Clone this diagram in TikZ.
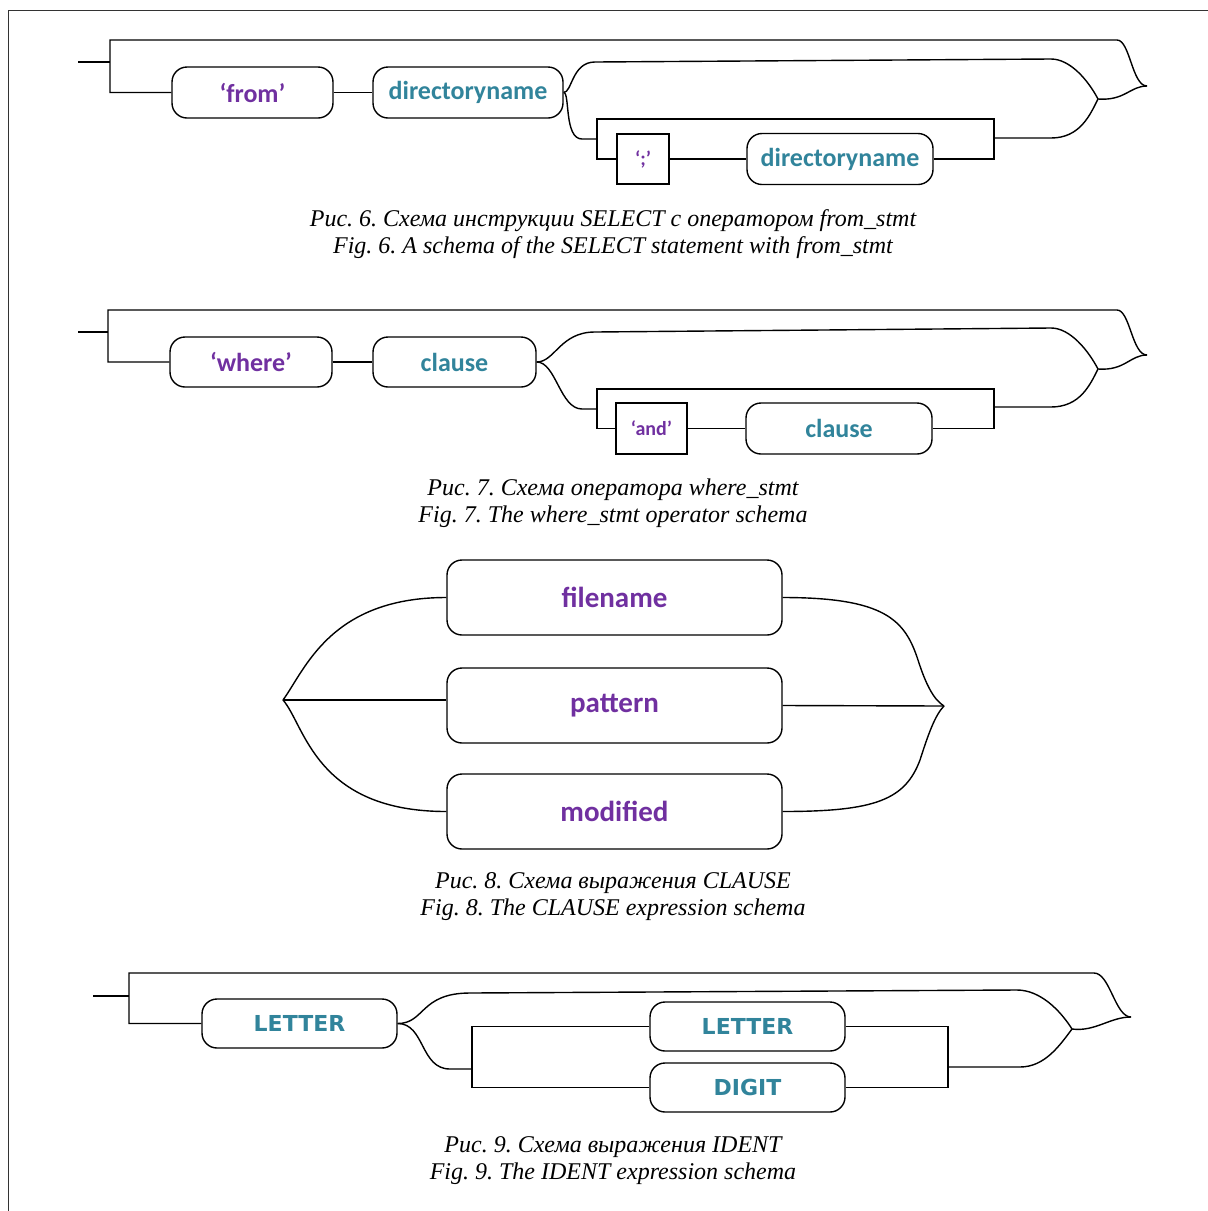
\documentclass[tikz,border=0pt]{standalone}
\usepackage{fontspec}
\setmainfont{Liberation Serif}
\newfontfamily\boxfont{Carlito}
\newfontfamily\capsfont{DejaVu Sans}
\usepackage{tikz}
\usetikzlibrary{positioning}
\definecolor{termpurple}{HTML}{7030A0}
\definecolor{ruleteal}{HTML}{31849B}
\frenchspacing
\tikzset{every picture/.style={line width=1.4pt},
  roundbox/.style={draw, rounded corners=15pt, inner sep=0pt,
    minimum height=51pt, font=\boxfont\bfseries\fontsize{26}{26}\selectfont},
  termbox/.style={roundbox, text=termpurple},
  rulebox/.style={roundbox, text=ruleteal},
  litbox/.style={draw, inner sep=0pt, minimum height=51pt, text=termpurple,
    font=\boxfont\bfseries\fontsize{20}{20}\selectfont},
  capsbox/.style={rulebox, minimum height=49pt,
    font=\capsfont\bfseries\fontsize{22}{22}\selectfont},
  figcaption/.style={align=center, inner sep=0pt,
    font=\itshape\fontsize{24}{27}\selectfont}}
\begin{document}
\begin{tikzpicture}[x=1pt, y=-1pt]
  \useasboundingbox (0,0) rectangle (1208,1211);
  \draw[line width=1pt, black!80] (8,1211) -- (8,10) -- (1208,10);

  % Fig. 6
  \node[termbox, minimum width=161pt] (from6) at (252.5,92.5) {‘from’};
  \node[rulebox, minimum width=190pt] (dir6a) at (468,92.5) {directoryname};
  \node[litbox, minimum width=52pt, minimum height=50pt] (semi6) at (643,159) {‘;’};
  \node[rulebox, minimum width=186pt] (dir6b) at (840,159) {directoryname};
  \coordinate (in6) at (78,62);
  \coordinate (out6) at (1147,86);
  \coordinate (j6) at (1098,99);
  \draw (in6) -- (110,62);
  \draw (from6.west) -- (110,92.5) -- (110,40) -- (1117,40)
    .. controls (1130,40) and (1132,86) .. (out6);
  \draw (j6) .. controls (1125,101) and (1130,86) .. (out6);
  \draw (from6) -- (dir6a);
  \draw (dir6a.east) .. controls (572,92.5) and (572,62) .. (595,62) -- (1051,59)
    .. controls (1070,59) and (1088,80) .. (j6);
  \draw (dir6a.east) .. controls (570,92.5) and (564,139) .. (582,139) -- (597,139);
  \draw (semi6.west) -- (597,159) -- (597,119) -- (994,119) -- (994,159) -- (dir6b.east);
  \draw (semi6) -- (dir6b);
  \draw (994,138) -- (1051,138) .. controls (1080,138) and (1090,115) .. (j6);
  \node[figcaption] (cap6) at (613,234) {Рис. 6. Схема инструкции SELECT с оператором from\_stmt\\
    Fig. 6. A schema of the SELECT statement with from\_stmt};

  % Fig. 7
  \node[termbox, minimum width=162pt, minimum height=50pt] (where7) at (251,362) {‘where’};
  \node[rulebox, minimum width=163pt, minimum height=50pt] (clause7a) at (454.5,362) {clause};
  \node[litbox, minimum width=71pt] (and7) at (651.5,428.5) {‘and’};
  \node[rulebox, minimum width=186pt] (clause7b) at (839,428.5) {clause};
  \coordinate (in7) at (78,332);
  \coordinate (out7) at (1147,355);
  \coordinate (j7) at (1098,369);
  \draw (in7) -- (108,332);
  \draw (where7.west) -- (108,362) -- (108,310) -- (1117,310)
    .. controls (1130,310) and (1132,355) .. (out7);
  \draw (j7) .. controls (1125,371) and (1130,355) .. (out7);
  \draw (where7) -- (clause7a);
  \draw (clause7a.east) .. controls (555,362) and (560,332) .. (595,332) -- (1051,328)
    .. controls (1070,328) and (1088,350) .. (j7);
  \draw (clause7a.east) .. controls (556,362) and (560,409) .. (582,409) -- (597,409);
  \draw (and7.west) -- (597,428.5) -- (597,389) -- (994,389) -- (994,428.5) -- (clause7b.east);
  \draw (and7) -- (clause7b);
  \draw (994,407) -- (1051,407) .. controls (1080,407) and (1090,385) .. (j7);
  \node[figcaption] (cap7) at (613,503) {Рис. 7. Схема оператора where\_stmt\\
    Fig. 7. The where\_stmt operator schema};

  % Fig. 8
  \begin{scope}[every node/.style={termbox, minimum width=335pt, minimum height=75pt,
      font=\boxfont\bfseries\fontsize{29}{29}\selectfont}]
    \node (filename8) at (614.5,597.5) {filename};
    \node (pattern8) at (614.5,705.5) {pattern};
    \node (modified8) at (614.5,811.5) {modified};
  \end{scope}
  \coordinate (in8) at (283,700);
  \coordinate (out8) at (944,706);
  \draw (in8) .. controls (305,670) and (330,597.5) .. (filename8.west);
  \draw (in8) -- (in8 -| pattern8.west);
  \draw (in8) .. controls (305,725) and (315,811.5) .. (modified8.west);
  \draw (filename8.east) .. controls (885,597.5) and (905,620) .. (918,660)
    .. controls (926,685) and (934,700) .. (out8);
  \draw (pattern8.east) -- (out8);
  \draw (modified8.east) .. controls (875,811.5) and (905,800) .. (920,760)
    .. controls (928,735) and (935,715) .. (out8);
  \node[figcaption] (cap8) at (613,897) {Рис. 8. Схема выражения CLAUSE\\
    Fig. 8. The CLAUSE expression schema};

  % Fig. 9
  \node[capsbox, minimum width=195pt] (letter9a) at (299.5,1023.5) {LETTER};
  \node[capsbox, minimum width=195pt] (letter9b) at (747.5,1026.5) {LETTER};
  \node[capsbox, minimum width=195pt] (digit9) at (747.5,1087.5) {DIGIT};
  \coordinate (in9) at (93,996);
  \coordinate (out9) at (1131,1017);
  \coordinate (j9) at (1072,1029);
  \draw (in9) -- (129,996);
  \draw (letter9a.west) -- (129,1023.5) -- (129,973) -- (1094,973)
    .. controls (1110,973) and (1115,1017) .. (out9);
  \draw (j9) .. controls (1095,1032) and (1110,1017) .. (out9);
  \draw (letter9a.east) .. controls (425,1023.5) and (420,993) .. (470,993) -- (1017,990)
    .. controls (1040,990) and (1060,1010) .. (j9);
  \draw (letter9a.east) .. controls (425,1023.5) and (420,1069) .. (450,1069) -- (472,1069);
  \draw (letter9b.west) -- (472,1026.5) -- (472,1087.5) -- (digit9.west);
  \draw (letter9b.east) -- (948,1026.5) -- (948,1087.5) -- (digit9.east);
  \draw (948,1067) -- (1020,1067) .. controls (1045,1067) and (1060,1045) .. (j9);
  \node[figcaption] (cap9) at (613,1161) {Рис. 9. Схема выражения IDENT\\
    Fig. 9. The IDENT expression schema};
\end{tikzpicture}
\end{document}
